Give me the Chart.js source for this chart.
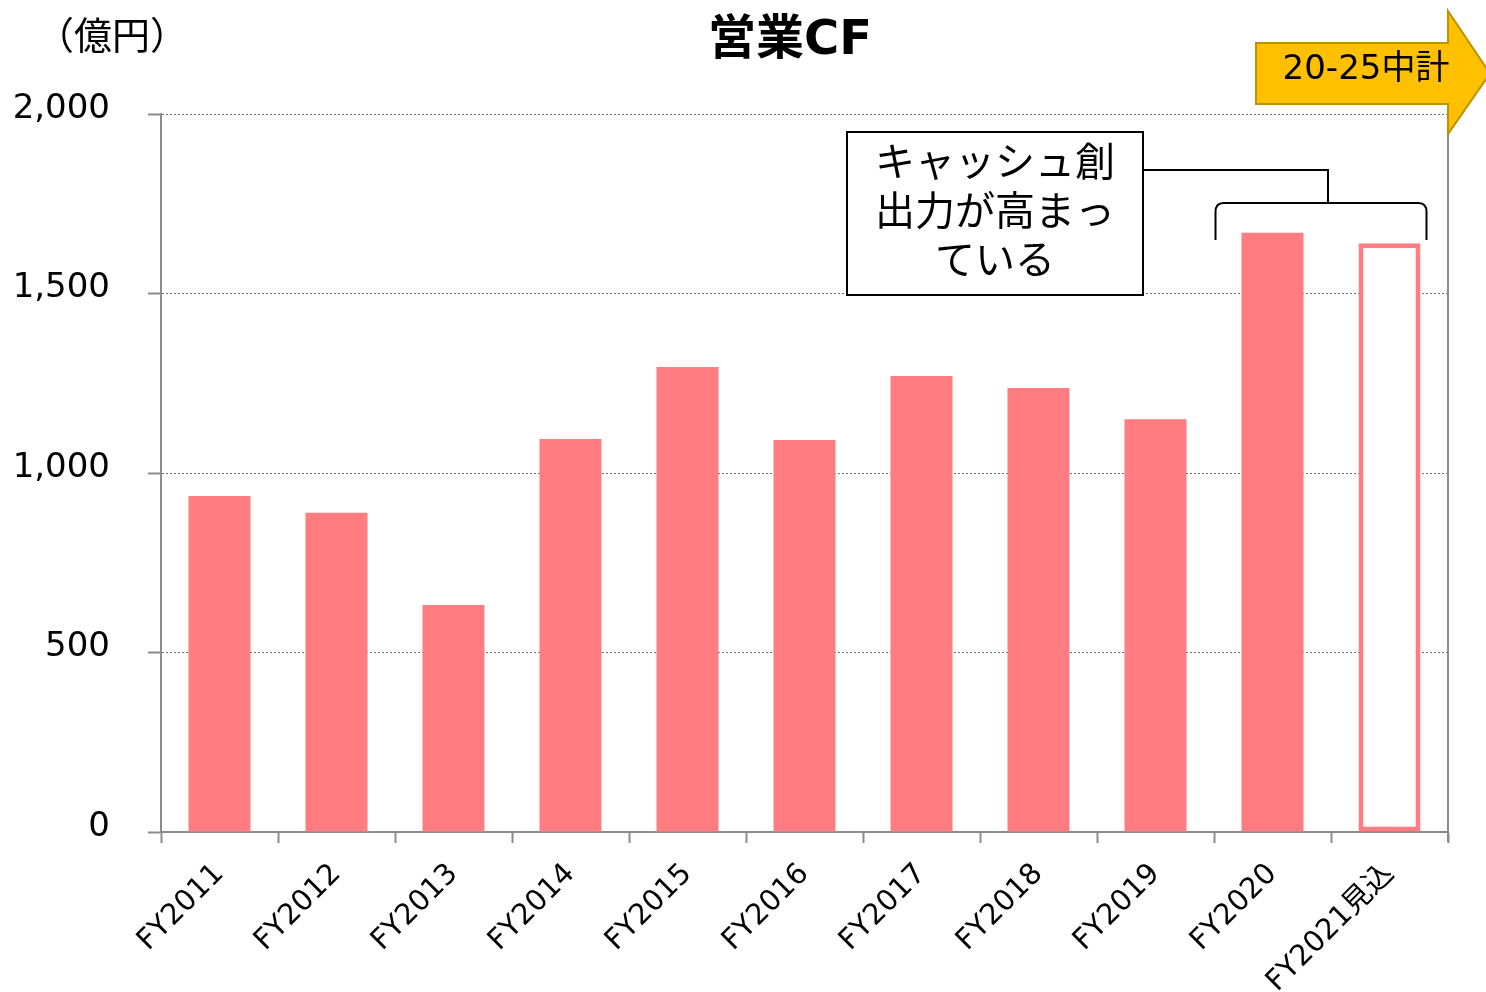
<!DOCTYPE html>
<html><head><meta charset="utf-8">
<script src="https://cdn.jsdelivr.net/npm/chart.js@4/dist/chart.umd.min.js"></script>
<style>html,body{margin:0;padding:0;background:#fff;}#wrap{width:1486px;height:992px;}</style>
</head><body><div id="wrap"><canvas id="c" width="1486" height="992"></canvas></div>
<script>
const categories = ["FY2011","FY2012","FY2013","FY2014","FY2015","FY2016","FY2017","FY2018","FY2019","FY2020","FY2021見込"];
const operatingCF = [936, 889, 632, 1095, 1295, 1092, 1270, 1237, 1150, 1669, 1640];
const yTicks = [0, 500, 1000, 1500, 2000];
const titleText = "営業CF";
const unitText = "（億円）";
const arrowText = "20-25中計";
const noteLines = ["キャッシュ創", "出力が高まっ", "ている"];

const FONT = '"DejaVu Sans","Noto Sans CJK JP",sans-serif';
const PINK = '#FF7C80';
const GRAY = '#8c8c8c';

const deco = {
  id: 'deco',
  afterDraw(chart) {
    const ctx = chart.ctx, a = chart.chartArea;
    const x = chart.scales.x;
    ctx.save();
    // right border
    ctx.strokeStyle = GRAY; ctx.lineWidth = 2;
    ctx.beginPath(); ctx.moveTo(a.right, a.top); ctx.lineTo(a.right, a.bottom + 10); ctx.stroke();
    // title
    ctx.fillStyle = '#000';
    ctx.font = 'bold 48px ' + FONT;
    ctx.textAlign = 'center'; ctx.textBaseline = 'middle';
    ctx.fillText(titleText, 790, 42);
    // unit
    ctx.font = '38px "Noto Sans CJK JP",' + FONT;
    ctx.fillText(unitText, 112, 35);
    // arrow
    const ax0 = 1256, ax1 = 1448, ay0 = 43, ay1 = 104, hy0 = 11, hy1 = 134, tip = 1490;
    ctx.beginPath();
    ctx.moveTo(ax0, ay0); ctx.lineTo(ax1, ay0); ctx.lineTo(ax1, hy0);
    ctx.lineTo(tip, (ay0 + ay1) / 2); ctx.lineTo(ax1, hy1); ctx.lineTo(ax1, ay1);
    ctx.lineTo(ax0, ay1); ctx.closePath();
    ctx.fillStyle = '#FFC000'; ctx.fill();
    ctx.strokeStyle = '#BF9000'; ctx.lineWidth = 2; ctx.stroke();
    ctx.fillStyle = '#000'; ctx.font = '34px ' + FONT;
    ctx.fillText(arrowText, 1366, 70);
    // note box
    ctx.fillStyle = '#fff';
    ctx.fillRect(847, 132, 296, 163);
    ctx.strokeStyle = '#000'; ctx.lineWidth = 2;
    ctx.strokeRect(847, 132, 296, 163);
    ctx.fillStyle = '#000'; ctx.font = '40px "Noto Sans CJK JP",' + FONT;
    noteLines.forEach((t, i) => ctx.fillText(t, 995, 161 + i * 49));
    // connector
    const c9 = x.getPixelForValue(9), c10 = x.getPixelForValue(10);
    ctx.beginPath();
    ctx.moveTo(1143, 170); ctx.lineTo(1328, 170); ctx.lineTo(1328, 203); ctx.stroke();
    // bracket
    const bl = c9 - 57, br = c10 + 37;
    ctx.beginPath();
    ctx.moveTo(bl, 240); ctx.lineTo(bl, 212); ctx.quadraticCurveTo(bl, 203, bl + 8, 203);
    ctx.lineTo(br - 8, 203); ctx.quadraticCurveTo(br, 203, br, 212); ctx.lineTo(br, 240);
    ctx.stroke();
    ctx.restore();
  }
};

new Chart(document.getElementById('c'), {
  type: 'bar',
  data: {
    labels: categories,
    datasets: [{
      data: operatingCF,
      backgroundColor: operatingCF.map((v, i) => i === operatingCF.length - 1 ? '#ffffff' : PINK),
      borderColor: PINK,
      borderWidth: operatingCF.map((v, i) => i === operatingCF.length - 1 ? 5 : 0),
      borderSkipped: false,
      categoryPercentage: 1,
      barPercentage: 0.53
    }]
  },
  options: {
    responsive: false,
    animation: false,
    layout: { padding: { top: 114, right: 38, left: 0, bottom: 0 } },
    plugins: { legend: { display: false }, tooltip: { enabled: false }, title: { display: false } },
    scales: {
      x: {
        grid: { display: true, drawOnChartArea: false, drawTicks: true, tickLength: 11, tickColor: GRAY, tickWidth: 2, offset: true },
        border: { display: true, color: GRAY, width: 2 },
        ticks: { color: '#000', font: { family: FONT, size: 29 }, maxRotation: 45, minRotation: 45, padding: 14, autoSkip: false },
        afterFit(s) { s.height = 160; }
      },
      y: {
        min: 0, max: 2000,
        afterBuildTicks(s) { s.ticks = yTicks.map(v => ({ value: v })); },
        grid: { color: '#6e6e6e', lineWidth: 1, tickLength: 13, tickColor: GRAY, tickWidth: 2, tickBorderDash: [] },
        border: { display: true, color: GRAY, width: 2, dash: [2, 2] },
        ticks: { color: '#000', font: { family: FONT, size: 34 }, padding: 38, labelOffset: -5,
          callback: v => v.toLocaleString('en-US') },
        afterFit(s) { s.width = 161; }
      }
    }
  },
  plugins: [deco]
});
</script></body></html>
